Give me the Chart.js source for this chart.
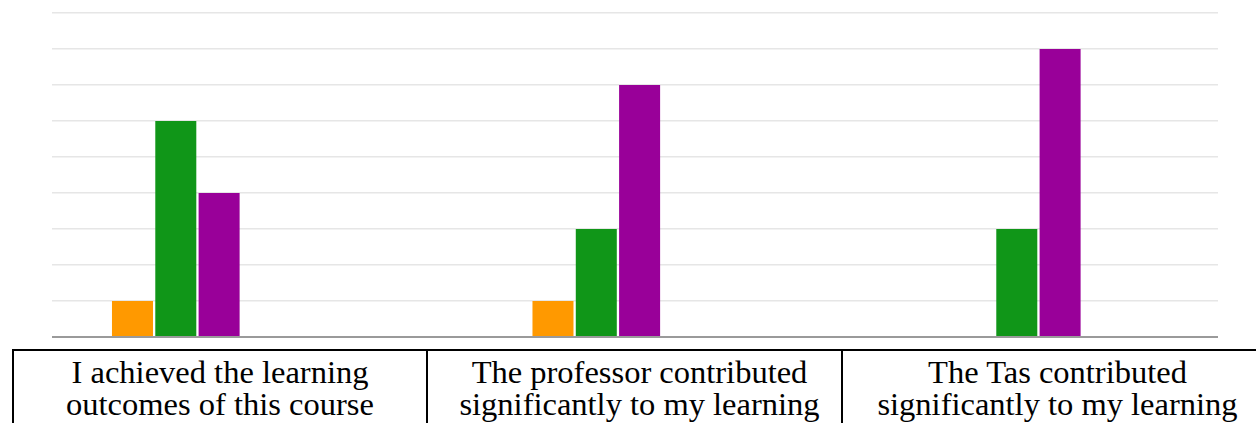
<!DOCTYPE html>
<html>
<head>
<meta charset="utf-8">
<script src="https://cdn.jsdelivr.net/npm/chart.js@4"></script>
<style>
    html, body { margin: 0; padding: 0; background: #fff; overflow: hidden; }
    #wrap { position: relative; width: 1256px; height: 349px; }
    #tableWrap { position: absolute; left: 12px; top: 349px; width: 1400px; }
    table {
        border-collapse: collapse; table-layout: fixed;
        font-family: "Liberation Serif", "Times New Roman", serif;
        font-size: 32.5px; line-height: 32px; color: #000;
    }
    td {
        border: 2px solid #000; text-align: center;
        vertical-align: top; padding: 0; height: 90px;
    }
    td .t { padding-top: 5px; white-space: nowrap; }
</style>
</head>
<body>
<div id="wrap"><canvas id="chart"></canvas></div>
<div id="tableWrap"><table><tr id="labels"></tr></table></div>

<script>
// Risposte per domanda (scala 1-5)
const categories = [
    ['I achieved the learning', 'outcomes of this course'],
    ['The professor contributed', 'significantly to my learning'],
    ['The Tas contributed', 'significantly to my learning']
];
const scale1 = [0, 0, 0];
const scale2 = [0, 0, 0];
const scale3 = [1, 1, 0];
const scale4 = [6, 3, 3];
const scale5 = [4, 7, 8];
const yTicks = [0, 1, 2, 3, 4, 5, 6, 7, 8, 9];

const colors = ['#3366cc', '#dc3912', '#ff9900', '#109618', '#990099'];
const series = [scale1, scale2, scale3, scale4, scale5];

// Etichette sotto il grafico (l'ultima colonna esce dal bordo)
const cellWidth = [412, 413, 440];
const cellPad = ['0 0 0 0', '0 0 0 10px', '0 11px 0 0'];
const row = document.getElementById('labels');
row.parentElement.parentElement.style.width = (cellWidth.reduce((a, b) => a + b, 0) + 8) + 'px';
row.innerHTML = categories.map((lines, i) =>
    `<td style="width:${cellWidth[i]}px"><div class="t" style="margin:${cellPad[i]}">${lines.join('<br>')}</div></td>`
).join('');

const canvas = document.getElementById('chart');
canvas.width = 1256;
canvas.height = 349;

new Chart(canvas.getContext('2d'), {
    type: 'bar',
    data: {
        datasets: series.map((values, s) => ({
            label: String(s + 1),
            data: values.map((v, i) => ({ x: i, y: v })),
            backgroundColor: colors[s],
            borderWidth: 0,
            categoryPercentage: 0.515,
            barPercentage: 0.947
        }))
    },
    options: {
        responsive: false,
        animation: false,
        layout: { padding: { left: 52, right: 38, top: 13, bottom: 12 } },
        plugins: { legend: { display: false }, tooltip: { enabled: false } },
        scales: {
            x: {
                type: 'linear',
                display: false,
                offset: false,
                grid: { offset: false },
                min: -0.1914,
                max: 2.5815,
                afterBuildTicks: (axis) => {
                    axis.ticks = categories.map((c, i) => ({ value: i }));
                }
            },
            y: {
                min: yTicks[0],
                max: yTicks[yTicks.length - 1],
                border: { display: false },
                ticks: { display: false, stepSize: 1 },
                grid: {
                    drawTicks: false,
                    color: (ctx) => ctx.tick && ctx.tick.value === 0 ? '#9a9a9a' : '#e6e6e6',
                    lineWidth: (ctx) => ctx.tick && ctx.tick.value === 0 ? 2 : 1.5
                }
            }
        }
    }
});
</script>
</body>
</html>
